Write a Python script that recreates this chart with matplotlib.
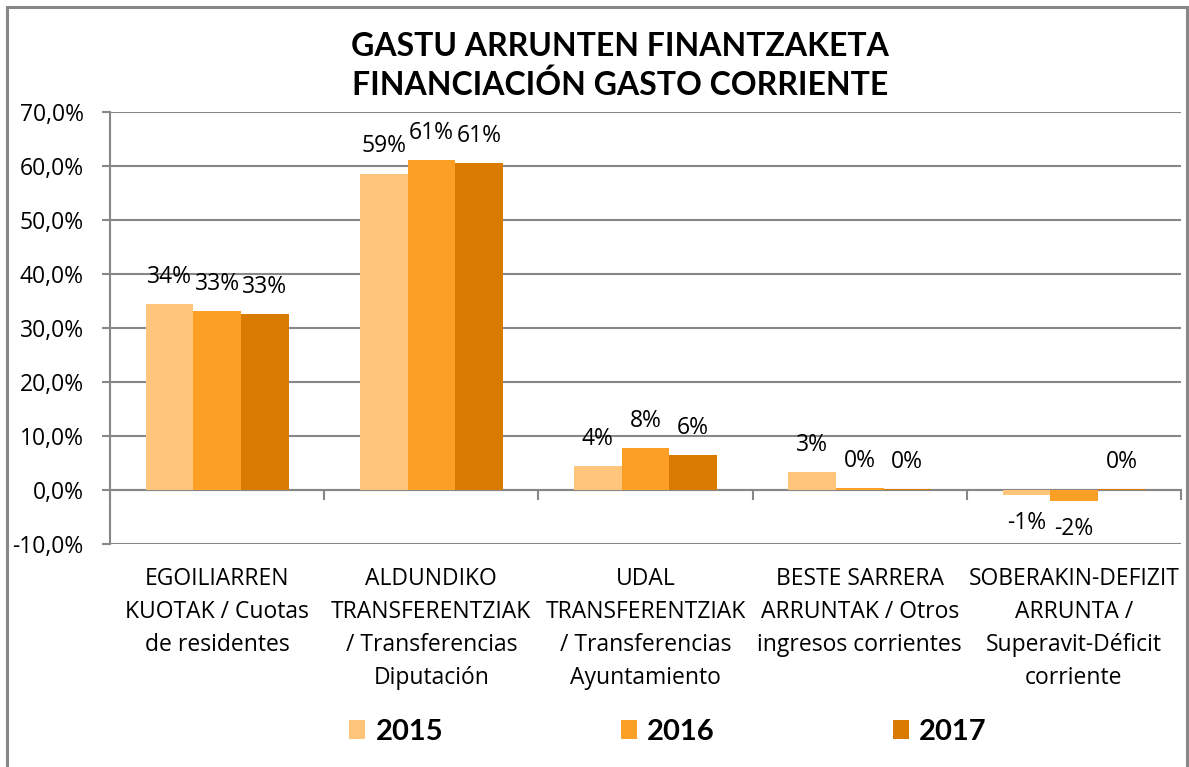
import matplotlib
matplotlib.use("Agg")
import matplotlib.pyplot as plt
import numpy as np
from matplotlib.patches import Patch, Rectangle
from matplotlib.ticker import FuncFormatter, FixedLocator
import matplotlib.transforms as mtrans

plt.rcParams['font.family'] = ['Open Sans', 'DejaVu Sans']

categories = [
    "EGOILIARREN\nKUOTAK / Cuotas\nde residentes",
    "ALDUNDIKO\nTRANSFERENTZIAK\n/ Transferencias\nDiputación",
    "UDAL\nTRANSFERENTZIAK\n/ Transferencias\nAyuntamiento",
    "BESTE SARRERA\nARRUNTAK / Otros\ningresos corrientes",
    "SOBERAKIN-DEFIZIT\nARRUNTA /\nSuperavit-Déficit\ncorriente",
]
years = ["2015", "2016", "2017"]
v2015 = [34.4, 58.6, 4.4, 3.4, -0.9]
v2016 = [33.1, 61.1, 7.7, 0.3, -2.0]
v2017 = [32.6, 60.6, 6.5, 0.1, 0.1]
series = [v2015, v2016, v2017]
colors = ['#FEC57B', '#FBA024', '#D87B00']
yticks = [-10, 0, 10, 20, 30, 40, 50, 60, 70]

W, H = 1189, 767
fig = plt.figure(figsize=(W / 100, H / 100), dpi=100)
fig.patches.append(Rectangle((7 / W, -0.1), (1187 - 7) / W, 1 + 0.1 - 7 / H,
                             transform=fig.transFigure, fill=False,
                             edgecolor='#888888', linewidth=2.2))

ax = fig.add_axes([110 / W, 1 - 544 / H, (1181 - 110) / W, (544 - 112) / H])
grid_c = '#878787'
fs = 16.5
x = np.arange(len(categories))
bw = 1 / 4.5
for i, (vals, c, yr) in enumerate(zip(series, colors, years)):
    pos = x + (i - 1) * bw
    ax.bar(pos, vals, width=bw, color=c, label=yr, zorder=3)
    for xp, v in zip(pos, vals):
        off = 19.5 if v >= 0 else -20.5
        ax.annotate(f"{round(v):.0f}%", (xp, v), xytext=(0, off),
                    textcoords='offset points', ha='center', va='center',
                    fontsize=fs, color='#000000', zorder=4)

ax.set_xlim(-0.5, len(categories) - 0.5)
ax.set_ylim(-10, 70)
ax.yaxis.set_major_locator(FixedLocator(yticks))
ax.yaxis.set_major_formatter(FuncFormatter(lambda v, p: f"{v:.1f}".replace('.', ',') + "%"))
ax.tick_params(axis='y', length=6, width=1.5, color=grid_c, labelsize=fs, pad=13)
ax.grid(axis='y', color=grid_c, linewidth=1.5, zorder=0)
ax.set_axisbelow(True)
for s in ['top', 'right']:
    ax.spines[s].set_visible(False)
ax.spines['left'].set_color(grid_c)
ax.spines['left'].set_linewidth(1.5)
ax.spines['bottom'].set_position(('data', 0))
ax.spines['bottom'].set_color(grid_c)
ax.spines['bottom'].set_linewidth(1.5)
ax.xaxis.set_major_locator(FixedLocator(np.arange(-0.5, len(categories), 1.0)))
ax.tick_params(axis='x', length=7, width=1.5, color=grid_c, labelbottom=False)

trans = mtrans.blended_transform_factory(ax.transData, fig.transFigure)
for xi, lab in zip(x, categories):
    ax.text(xi, 1 - 567 / H, lab, transform=trans, ha='center', va='top',
            fontsize=fs, linespacing=1.5)

fig.text(620 / W, 1 - 66 / H, "GASTU ARRUNTEN FINANTZAKETA\nFINANCIACIÓN GASTO CORRIENTE",
         ha='center', va='center', fontsize=23, fontweight='bold', linespacing=1.3,
         family=['Lato', 'DejaVu Sans'])

handles = [Patch(facecolor=c, edgecolor='none') for c in colors]
fig.legend(handles, years, loc='center', bbox_to_anchor=(668 / W, 1 - 732 / H),
           ncol=3, frameon=False, prop={'size': 21, 'weight': 'bold', 'family': ['Lato', 'DejaVu Sans']},
           handlelength=0.55, handleheight=0.65, handletextpad=0.35,
           columnspacing=6.1)

fig.savefig("out.png", dpi=100)
